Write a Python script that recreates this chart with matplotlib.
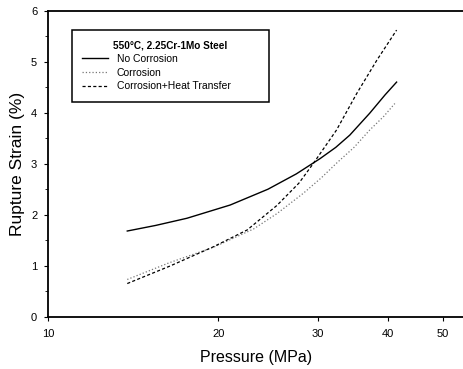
import numpy as np
import matplotlib
matplotlib.use("Agg")
import matplotlib.pyplot as plt
from matplotlib.ticker import FixedLocator, NullFormatter, MultipleLocator

plt.rcParams['font.family'] = ['Liberation Sans', 'DejaVu Sans']

p_no = [13.8, 15.5, 17.6, 21.0, 24.5, 27.5, 30.3, 32.3, 34.2, 37.1, 39.5, 41.4]
s_no = [1.68, 1.79, 1.93, 2.19, 2.50, 2.80, 3.10, 3.32, 3.56, 3.99, 4.35, 4.60]

p_cor = [13.8, 16.4, 19.6, 23.1, 25.4, 28.3, 30.5, 32.4, 34.8, 37.1, 39.3, 41.1]
s_cor = [0.73, 1.06, 1.36, 1.72, 2.02, 2.42, 2.73, 3.01, 3.32, 3.66, 3.93, 4.18]

p_ht = [13.8, 16.4, 19.6, 22.5, 25.4, 27.8, 29.5, 32.4, 35.2, 38.2, 41.4]
s_ht = [0.65, 0.99, 1.37, 1.70, 2.18, 2.62, 3.01, 3.66, 4.38, 5.03, 5.62]

xticks = [10, 20, 30, 40, 50]
yticks = [0, 1, 2, 3, 4, 5, 6]

fig = plt.figure(figsize=(4.64, 3.69), dpi=100)
ax = fig.add_axes([48.3/464, 1-316.7/369, (464-48.3)/464, (316.7-10.7)/369])

ax.plot(p_no, s_no, '-', color='black', lw=1.0, label='No Corrosion')
ax.plot(p_cor, s_cor, ':', color='#777777', lw=0.9, label='Corrosion')
ax.plot(p_ht, s_ht, '--', color='black', lw=0.9, dashes=(2.5, 1.8), label='Corrosion+Heat Transfer')

ax.set_xscale('log')
ax.set_xlim(10, 54.5)
ax.set_ylim(0, 6)
ax.xaxis.set_major_locator(FixedLocator(xticks))
ax.xaxis.set_minor_locator(FixedLocator([]))
ax.xaxis.set_minor_formatter(NullFormatter())
ax.set_xticklabels([str(t) for t in xticks])
ax.set_yticks(yticks)
ax.yaxis.set_minor_locator(MultipleLocator(0.5))
ax.tick_params(labelsize=8, width=0.8, length=3)
ax.tick_params(axis='x', pad=6)
ax.tick_params(axis='y', pad=5)
ax.tick_params(which='minor', length=2, width=0.6)
ax.spines['right'].set_visible(False)
for s in ['left', 'bottom', 'top']:
    ax.spines[s].set_linewidth(1.3)

ax.set_xlabel('Pressure (MPa)', fontsize=11.5, labelpad=8)
ax.set_ylabel('Rupture Strain (%)', fontsize=12.5, labelpad=4)

bx0 = (72 - 48.3) / (464 - 48.3)
bw = (269 - 72) / (464 - 48.3)
by1 = (316.7 - 30) / 306.0
bh = (101 - 30) / 306.0
leg = ax.legend(title='550°C, 2.25Cr-1Mo Steel', loc='upper left',
                bbox_to_anchor=(bx0, by1 - bh, bw, bh), mode='expand',
                borderaxespad=0, fontsize=7.5, title_fontsize=7.2,
                fancybox=False, framealpha=1, edgecolor='black',
                handlelength=2.5, borderpad=1.0, labelspacing=0.35,
                handletextpad=0.8)
leg.get_frame().set_linewidth(1.1)
leg.get_title().set_fontweight('bold')

fig.savefig('out.png', dpi=100)
